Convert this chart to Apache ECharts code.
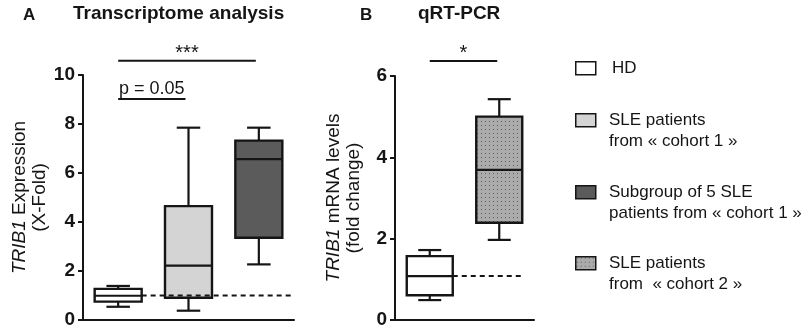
<!DOCTYPE html>
<html>
<head>
<meta charset="utf-8">
<script src="https://cdn.jsdelivr.net/npm/echarts@6/dist/echarts.min.js"></script>
<style>
  html, body { margin: 0; padding: 0; background: #fff; }
  #chart { width: 803px; height: 330px; }
</style>
</head>
<body>
<div id="chart"></div>
<script>
// panel A - transcriptome
var catsA = ['HD', 'SLE cohort 1', 'Subgroup cohort 1'];
// low, q1, median, q3, high
var boxA = [
    [0.54, 0.75, 0.99, 1.27, 1.39],
    [0.38, 0.91, 2.22, 4.65, 7.85],
    [2.27, 3.36, 6.57, 7.32, 7.85]
];
var ticksA = [0, 2, 4, 6, 8, 10];
var refA = [1.0];
// from cat, to cat, level
var sigA = [[0, 2, 10.58], [0, 1, 9.02]];
var sigTextA = ['***', 'p = 0.05'];

// panel B - qRT-PCR
var catsB = ['HD', 'SLE cohort 2'];
var boxB = [
    [0.49, 0.61, 1.08, 1.57, 1.72],
    [1.97, 2.39, 3.69, 5.0, 5.43]
];
var ticksB = [0, 2, 4, 6];
var refB = [1.08];
var sigB = [[0, 1, 6.37]];
var sigTextB = ['*'];

var legendLabels = [
    ['HD'],
    ['SLE patients', 'from \u00ab cohort 1 \u00bb'],
    ['Subgroup of 5 SLE', 'patients from \u00ab cohort 1 \u00bb'],
    ['SLE patients', 'from  \u00ab cohort 2 \u00bb']
];

var FONT = '"Liberation Sans", Arial, Helvetica, sans-serif';
var INK = '#151515';

// dotted fill for cohort 2
function dotPattern() {
    var c = document.createElement('canvas');
    c.width = 4; c.height = 4;
    var g = c.getContext('2d');
    g.fillStyle = '#ababab';
    g.fillRect(0, 0, 4, 4);
    g.fillStyle = '#5e5e5e';
    g.fillRect(1, 1, 1, 1);
    return c;
}
var dots = { image: dotPattern(), repeat: 'repeat' };

var fillA = ['#ffffff', '#d4d4d4', '#5b5b5b'];
var fillB = ['#ffffff', dots];
var legendFill = ['#ffffff', '#d4d4d4', '#5b5b5b', dots];

function boxRender(fills, w) {
    return function (params, api) {
        var x = api.value(0);
        var lo = api.coord([x, api.value(1)]);
        var q1 = api.coord([x, api.value(2)]);
        var md = api.coord([x, api.value(3)]);
        var q3 = api.coord([x, api.value(4)]);
        var hi = api.coord([x, api.value(5)]);
        var cx = lo[0];
        var cap = w / 2;
        var ls = { stroke: INK, lineWidth: 2.2 };
        return {
            type: 'group',
            children: [
                { type: 'line', shape: { x1: cx, y1: hi[1], x2: cx, y2: q3[1] }, style: ls },
                { type: 'line', shape: { x1: cx, y1: q1[1], x2: cx, y2: lo[1] }, style: ls },
                { type: 'line', shape: { x1: cx - cap / 2, y1: hi[1], x2: cx + cap / 2, y2: hi[1] }, style: ls },
                { type: 'line', shape: { x1: cx - cap / 2, y1: lo[1], x2: cx + cap / 2, y2: lo[1] }, style: ls },
                { type: 'rect', shape: { x: cx - w / 2, y: q3[1], width: w, height: q1[1] - q3[1] },
                  style: { fill: fills[params.dataIndex], stroke: INK, lineWidth: 2.4 } },
                { type: 'line', shape: { x1: cx - w / 2, y1: md[1], x2: cx + w / 2, y2: md[1] }, style: ls }
            ]
        };
    };
}

// dashed line at HD level, from right of HD box to a given x end
function refRender(w, endFn) {
    return function (params, api) {
        var p = api.coord([0, api.value(0)]);
        return {
            type: 'line',
            shape: { x1: p[0] + w / 2, y1: p[1], x2: endFn(params, api), y2: p[1] },
            style: { stroke: INK, lineWidth: 2, lineDash: [5, 4] }
        };
    };
}

function sigRender(texts, gap) {
    return function (params, api) {
        var a = api.coord([api.value(0), api.value(2)]);
        var b = api.coord([api.value(1), api.value(2)]);
        var t = texts[params.dataIndex];
        var star = t.indexOf('*') === 0;
        return {
            type: 'group',
            children: [
                { type: 'line', shape: { x1: a[0], y1: a[1], x2: b[0] - gap, y2: a[1] },
                  style: { stroke: INK, lineWidth: 2 } },
                { type: 'text', x: (a[0] + b[0] - gap) / 2, y: a[1] + (star ? 3 : -1),
                  style: { text: t, fill: INK, font: (star ? '20px ' : '18px ') + FONT,
                           align: 'center', verticalAlign: 'bottom' } }
            ]
        };
    };
}

function yAxisCfg(grid, ticks, name, gap) {
    return {
        type: 'value', gridIndex: grid,
        min: ticks[0], max: ticks[ticks.length - 1], interval: ticks[1] - ticks[0],
        axisLine: { show: true, lineStyle: { color: INK, width: 2 } },
        axisTick: { show: true, length: 5, lineStyle: { color: INK, width: 2 } },
        axisLabel: { color: INK, fontSize: 19, fontWeight: 'bold', fontFamily: FONT, margin: 8 },
        splitLine: { show: false },
        name: name, nameLocation: 'middle', nameRotate: 90, nameGap: gap,
        nameTextStyle: {
            color: INK, fontSize: 19, fontFamily: FONT, lineHeight: 20,
            rich: { i: { fontStyle: 'italic', fontSize: 19, fontFamily: FONT, color: INK } }
        }
    };
}

function xAxisCfg(grid, cats) {
    return {
        type: 'category', gridIndex: grid, data: cats, boundaryGap: true,
        axisLine: { lineStyle: { color: INK, width: 2 } },
        axisTick: { alignWithLabel: true, length: 7, lineStyle: { color: INK, width: 2 } },
        axisLabel: { show: false },
        splitLine: { show: false }
    };
}

var legendGraphics = [];
var legendY = [68, 120, 192, 263];
for (var i = 0; i < legendLabels.length; i++) {
    legendGraphics.push({
        type: 'rect', left: 575, top: legendY[i] - 7,
        shape: { width: 20, height: 13 },
        style: { fill: legendFill[i], stroke: INK, lineWidth: 1.5 }
    });
    legendGraphics.push({
        type: 'text', left: i === 0 ? 612 : 609, top: legendY[i] - 10,
        style: { text: legendLabels[i].join('\n'), fill: INK, font: '17px ' + FONT, lineHeight: 21 }
    });
}

var chart = echarts.init(document.getElementById('chart'), null, { renderer: 'canvas' });

chart.setOption({
    animation: false,
    backgroundColor: '#ffffff',
    grid: [
        { left: 83, top: 75, width: 211, bottom: 10 },
        { left: 395, top: 76, width: 139, bottom: 10 }
    ],
    xAxis: [xAxisCfg(0, catsA), xAxisCfg(1, catsB)],
    yAxis: [
        yAxisCfg(0, ticksA, '{i|TRIB1} Expression\n(X-Fold)', 33),
        yAxisCfg(1, ticksB, '{i|TRIB1} mRNA levels\n(fold change)', 31)
    ],
    graphic: [
        { type: 'text', left: 23, top: 7, style: { text: 'A', fill: INK, font: 'bold 17px ' + FONT } },
        { type: 'text', left: 73, top: 4, style: { text: 'Transcriptome analysis', fill: INK, font: 'bold 19px ' + FONT } },
        { type: 'text', left: 360, top: 7, style: { text: 'B', fill: INK, font: 'bold 17px ' + FONT } },
        { type: 'text', left: 418, top: 4, style: { text: 'qRT-PCR', fill: INK, font: 'bold 19px ' + FONT } }
    ].concat(legendGraphics),
    series: [
        {
            type: 'custom', xAxisIndex: 0, yAxisIndex: 0,
            renderItem: boxRender(fillA, 47),
            encode: { x: 0, y: [1, 2, 3, 4, 5] },
            data: boxA.map(function (b, k) { return [k].concat(b); })
        },
        {
            type: 'custom', xAxisIndex: 0, yAxisIndex: 0,
            renderItem: refRender(47, function (params) { return params.coordSys.x + params.coordSys.width; }),
            encode: { y: 0 },
            data: refA.map(function (v) { return [v]; })
        },
        {
            type: 'custom', xAxisIndex: 0, yAxisIndex: 0, clip: false,
            renderItem: sigRender(sigTextA, 3),
            encode: { y: 2 },
            data: sigA
        },
        {
            type: 'custom', xAxisIndex: 1, yAxisIndex: 1,
            renderItem: boxRender(fillB, 46),
            encode: { x: 0, y: [1, 2, 3, 4, 5] },
            data: boxB.map(function (b, k) { return [k].concat(b); })
        },
        {
            type: 'custom', xAxisIndex: 1, yAxisIndex: 1,
            renderItem: refRender(46, function (params, api) { return api.coord([1, 0])[0] + 23; }),
            encode: { y: 0 },
            data: refB.map(function (v) { return [v]; })
        },
        {
            type: 'custom', xAxisIndex: 1, yAxisIndex: 1, clip: false,
            renderItem: sigRender(sigTextB, 2),
            encode: { y: 2 },
            data: sigB
        }
    ]
});
</script>
</body>
</html>
